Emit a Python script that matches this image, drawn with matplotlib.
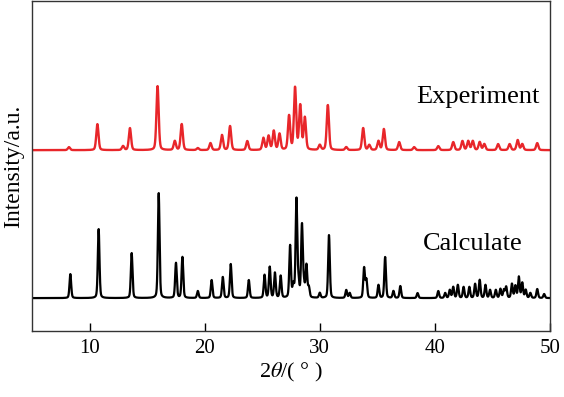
import numpy as np
import matplotlib.pyplot as plt

plt.rcParams["font.family"] = ["Liberation Serif", "DejaVu Serif"]
plt.rcParams["mathtext.fontset"] = "stix"

# ── peak lists (2theta in degrees, height in a.u.) ──────────────────────────
calc_pos = [8.32, 10.78, 13.65, 16.0, 17.5, 18.06, 19.4, 20.6, 21.57, 22.26,
            23.83, 25.2, 25.65, 26.1, 26.6, 27.42, 27.7, 27.97, 28.15, 28.45,
            28.62, 28.84, 29.05, 30.0, 30.8, 32.3, 32.6, 33.85, 34.05, 35.1,
            35.68, 36.4, 37.0, 38.5, 40.3, 40.9, 41.3, 41.6, 42.0, 42.5, 43.0,
            43.5, 43.9, 44.4, 44.8, 45.3, 45.7, 46.0, 46.2, 46.7, 47.0, 47.3,
            47.6, 47.9, 48.3, 48.9, 49.5]
calc_int = [24, 69, 45, 105, 35, 41, 7, 18, 21, 34,
            18, 23, 31, 25, 22, 52, 12, 98, 14, 72,
            12, 32, 10, 5, 63, 8, 5, 30, 18, 13,
            41, 7, 12, 5, 7, 5, 8, 11, 13, 11, 11,
            14, 18, 13, 8, 8, 9, 8, 11, 14, 12, 21,
            15, 8, 5, 9, 4]

exp_pos = [8.2, 10.67, 12.9, 13.5, 15.9, 17.4, 18.0, 19.4, 20.5, 21.5,
           22.2, 23.7, 25.1, 25.55, 26.0, 26.5, 27.33, 27.85, 28.3, 28.7,
           30.0, 30.7, 32.3, 33.77, 34.3, 35.1, 35.57, 36.9, 38.2, 40.3,
           41.6, 42.4, 42.9, 43.3, 43.9, 44.3, 45.5, 46.5, 47.2, 47.6, 48.9]
exp_int = [3, 26, 4, 22, 64, 9, 26, 2, 7, 15,
           24, 9, 12, 14, 19, 16, 34, 62, 44, 32,
           5, 45, 3, 22, 5, 9, 21, 8, 3, 4,
           8, 9, 9, 9, 8, 6, 6, 6, 10, 6, 7]

calc_offset = 33
exp_offset = 181

theta = np.linspace(5, 50, 4500)


def pattern(pos, inten, fwhm):
    hw = fwhm / 2
    y = np.zeros_like(theta)
    for p, h in zip(pos, inten):
        g = np.exp(-np.log(2) * ((theta - p) / hw) ** 2)
        l = 1 / (1 + ((theta - p) / hw) ** 2)
        y += h * (0.7 * g + 0.3 * l)
    return y


fig, ax = plt.subplots(figsize=(5.64, 3.97), dpi=100)
fig.subplots_adjust(left=0.057, right=0.975, bottom=0.166, top=0.997)

ax.plot(theta, pattern(calc_pos, calc_int, 0.17) + calc_offset,
        color="black", lw=1.6)
ax.plot(theta, pattern(exp_pos, exp_int, 0.23) + exp_offset,
        color="#e8262a", lw=1.7)

ax.text(43.7, 234, "Experiment", ha="center", va="center", fontsize=19)
ax.text(43.3, 87, "Calculate", ha="center", va="center", fontsize=19)

ax.set_xlim(5, 50)
ax.set_ylim(0, 330)
ax.set_xticks([10, 20, 30, 40, 50])
ax.set_yticks([])
ax.tick_params(axis="x", direction="in", length=6, width=1, labelsize=15, pad=6)
for s in ax.spines.values():
    s.set_linewidth(1.0)
    s.set_color("#333333")

ax.set_xlabel(r"2$\theta$/( ° )", fontsize=16, labelpad=2)
ax.set_ylabel("Intensity/a.u.", fontsize=17, labelpad=6)

fig.savefig("out.png", dpi=100)
